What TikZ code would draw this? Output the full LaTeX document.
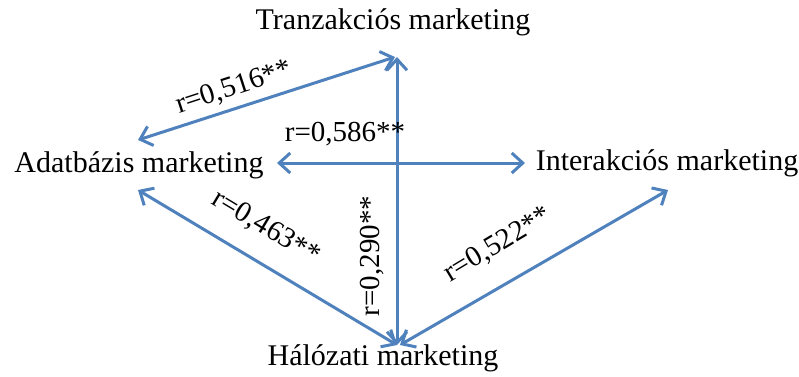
\documentclass[tikz,border=0pt]{standalone}
\usepackage{fontspec}
\setmainfont{Liberation Serif}
\usetikzlibrary{arrows.meta}
\definecolor{arrblue}{HTML}{4F81BD}
\tikzset{
  lbl/.style={font=\fontsize{30}{32}\selectfont, inner sep=0pt},
  rlbl/.style={font=\fontsize{29}{31}\selectfont, inner sep=0pt},
  link/.style={draw=arrblue, line width=3pt, {Straight Barb[length=11pt,width=20pt,line width=3pt]}-{Straight Barb[length=11pt,width=20pt,line width=3pt]}}
}
\begin{document}
\begin{tikzpicture}[x=1pt,y=1pt]
\useasboundingbox (0,0) rectangle (799,376);
% labels of the four concepts
\node[lbl] (T) at (393,354) {Tranzakciós marketing};
\node[lbl] (A) at (139,211) {Adatbázis marketing};
\node[lbl] (I) at (667,213) {Interakciós marketing};
\node[lbl] (H) at (383,18) {Hálózati marketing};
% arrow end points
\coordinate (tA) at (138,236);
\coordinate (tT) at (395,319);
\coordinate (vT) at (397,319);
\coordinate (vH) at (397,31);
\coordinate (hA) at (277,213);
\coordinate (hI) at (525,213);
\coordinate (bA) at (138,186);
\coordinate (bH) at (397,31);
\coordinate (iH) at (400,31);
\coordinate (iI) at (668,186);
% connectors
\draw[link] (tA) -- (tT);
\draw[link] (vT) -- (vH);
\draw[link] (hA) -- (hI);
\draw[link] (bA) -- (bH);
\draw[link] (iH) -- (iI);
% correlation labels
\node[rlbl, rotate=18] (r1) at (234,288) {r=0,516**};
\node[rlbl] (r2) at (345,242) {r=0,586**};
\node[rlbl, rotate=90] (r3) at (372,120) {r=0,290**};
\node[rlbl, rotate=-31] (r4) at (266,148) {r=0,463**};
\node[rlbl, rotate=31] (r5) at (498,131) {r=0,522**};
\end{tikzpicture}
\end{document}
